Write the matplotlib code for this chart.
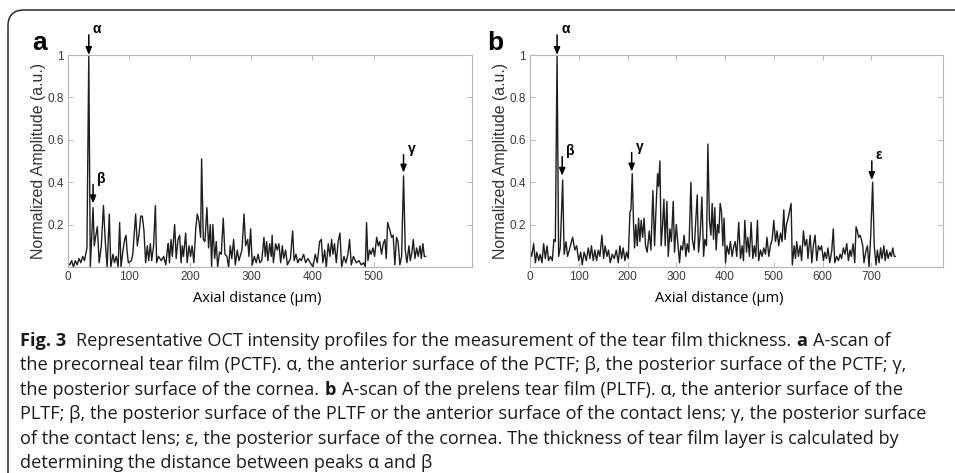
"""Two OCT A-scan intensity profiles (PCTF / PLTF) with peak markers and the figure caption."""

import matplotlib.pyplot as plt
from matplotlib.patches import FancyBboxPatch

# panel a: precorneal tear film, trace vertices (axial distance in um, normalized amplitude)
a_x = [0, 3, 6, 9, 12, 15, 18, 21, 24, 27, 29, 31, 34, 36.5, 41, 43, 45, 48, 51, 54.5, 58, 61, 64,
       67.6, 70, 73.6, 76, 79, 82, 84.5, 86.7, 90, 92.7, 95, 96.5, 98.7, 103.6, 106, 110.7, 113.4,
       116, 119, 121.6, 124.3, 127, 129.8, 132, 134.7, 137, 140, 143, 145, 148, 152.7, 156.5, 160,
       162.5, 164, 166, 168.5, 170.7, 174.5, 177, 180, 182.7, 185, 187, 189, 192.5, 195, 198, 200.6,
       203, 206, 209, 211.5, 214, 217, 218.6, 221.4, 224, 227.3, 230, 232.8, 235, 237, 240, 242.6,
       244.8, 248, 250.8, 254, 256.8, 260, 262.8, 265.5, 268, 271, 273.7, 277, 279.7, 284.6, 288,
       290.6, 294, 296, 298.8, 301.5, 304.8, 308, 311, 314, 317, 320.6, 322.8, 325, 327, 330, 332.6,
       334, 336, 339.7, 342.4, 345, 348, 350.6, 353, 356, 359, 364, 367.5, 370, 373, 376, 379, 381.7,
       385.5, 388.8, 392.6, 396.4, 400.8, 404.6, 407.9, 411.7, 414.4, 417, 420, 422.6, 425.8, 428.6,
       431.3, 433.5, 436, 439, 442, 445, 447.7, 451.5, 454.7, 458, 460.7, 463.5, 467, 471.6, 476,
       479.8, 483.6, 486.4, 488.5, 490.7, 493.5, 496, 499, 501.6, 505, 507.6, 510, 513, 515.8, 518.5,
       520.7, 523, 525, 527, 529.5, 532, 534.8, 537.5, 540, 543, 545.8, 549, 551.8, 554.5, 557.8,
       560, 562.7, 564.9, 567.6, 570.4, 573, 576, 578, 580.7, 583, 585]
a_y = [0.02, 0.01, 0.03, 0.0, 0.03, 0.01, 0.04, 0.02, 0.05, 0.03, 0.06, 0.09, 1.0, 0.0, 0.28, 0.1,
       0.14, 0.19, 0.02, 0.1, 0.29, 0.12, 0.0, 0.25, 0.0, 0.06, 0.02, 0.05, 0.0, 0.21, 0.0, 0.08, 0.13,
       0.15, 0.08, 0.02, 0.03, 0.06, 0.25, 0.1, 0.15, 0.24, 0.24, 0.17, 0.02, 0.1, 0.03, 0.11, 0.03,
       0.1, 0.29, 0.02, 0.05, 0.03, 0.05, 0.01, 0.08, 0.11, 0.02, 0.13, 0.05, 0.2, 0.04, 0.13, 0.15,
       0.02, 0.1, 0.05, 0.16, 0.02, 0.1, 0.05, 0.1, 0.02, 0.18, 0.25, 0.22, 0.14, 0.51, 0.13, 0.12,
       0.28, 0.09, 0.2, 0.0, 0.2, 0.04, 0.12, 0.0, 0.07, 0.06, 0.23, 0.06, 0.05, 0.0, 0.1, 0.04, 0.13,
       0.01, 0.08, 0.03, 0.08, 0.25, 0.1, 0.13, 0.05, 0.18, 0.01, 0.05, 0.02, 0.06, 0.02, 0.03, 0.14,
       0.05, 0.12, 0.03, 0.11, 0.05, 0.15, 0.02, 0.11, 0.08, 0.11, 0.02, 0.1, 0.04, 0.08, 0.01, 0.04,
       0.17, 0.03, 0.06, 0.02, 0.04, 0.03, 0.06, 0.02, 0.04, 0.02, 0.0, 0.06, 0.02, 0.12, 0.13, 0.02,
       0.08, 0.0, 0.11, 0.05, 0.13, 0.06, 0.11, 0.02, 0.12, 0.16, 0.0, 0.05, 0.02, 0.06, 0.13, 0.01,
       0.05, 0.02, 0.03, 0.01, 0.02, 0.0, 0.21, 0.03, 0.08, 0.06, 0.09, 0.05, 0.14, 0.1, 0.12, 0.06,
       0.11, 0.13, 0.04, 0.21, 0.19, 0.17, 0.14, 0.15, 0.01, 0.14, 0.12, 0.01, 0.05, 0.43, 0.08, 0.02,
       0.1, 0.03, 0.07, 0.13, 0.04, 0.09, 0.05, 0.1, 0.04, 0.11, 0.05, 0.05]

# panel b: prelens tear film
b_x = [0, 3.4, 7.5, 11, 14, 18, 21, 24.6, 28, 31.4, 35, 38, 42, 45.8, 49, 52, 55.5, 58.7, 62, 67, 70,
       73.8, 77, 80.6, 87.4, 92, 95.6, 100, 104, 107, 111, 115.4, 119.5, 123, 126, 129.8, 133, 136.6,
       140, 143.4, 147.5, 151, 154, 157.8, 161, 164.6, 168.7, 172.8, 177, 181, 184.4, 187.8, 191,
       194.7, 198, 201.5, 205, 207, 209.7, 212.4, 214.5, 217, 220, 222.7, 225.4, 228, 231, 234, 237,
       240.4, 244.5, 248, 252, 255.5, 258, 261.6, 263.7, 266.4, 269, 272, 274.6, 277.3, 280.7, 283.5,
       287, 290, 293.7, 296.4, 300, 303, 306.7, 309.4, 312.8, 316, 319.7, 322.4, 325.8, 330, 333,
       336.7, 339.5, 343, 345.6, 349, 352.5, 356, 358.6, 362, 364.8, 368, 371, 373.6, 376.4, 379,
       381.8, 384.6, 387.3, 390, 392.8, 395.5, 398, 401, 404, 407.8, 411, 414.6, 417.3, 420.8, 424,
       428, 431.7, 435, 437.8, 440.6, 444, 446.7, 450, 453.5, 457, 460, 463, 466.5, 469, 472.7, 476,
       479.5, 483, 486, 489.8, 493, 496.6, 500, 503.4, 506.8, 510, 513.7, 517, 520.5, 523, 526, 529.4,
       532.8, 535.5, 538, 541.7, 544.4, 547, 550.5, 554, 557, 560.8, 564, 567.6, 570, 574.5, 578, 581,
       584.7, 588, 591.5, 595, 598, 601.8, 604.5, 608, 611, 614.8, 619, 622, 625, 629, 632.5, 636, 639,
       642.7, 646, 649.6, 653, 656.4, 659, 662.6, 666, 668.7, 671.4, 674, 677, 679.6, 682.4, 685,
       688.5, 692, 695.4, 698.8, 702.7, 706, 709.7, 712.4, 716, 719, 722, 725.7, 728.4, 731.6, 734.5,
       738, 741, 744, 747, 749]
b_y = [0.08, 0.05, 0.11, 0.02, 0.07, 0.03, 0.06, 0.02, 0.11, 0.04, 0.1, 0.03, 0.05, 0.03, 0.13, 0.12,
       1.0, 0.05, 0.09, 0.41, 0.06, 0.12, 0.05, 0.08, 0.14, 0.08, 0.1, 0.03, 0.07, 0.01, 0.07, 0.03,
       0.09, 0.04, 0.1, 0.03, 0.08, 0.03, 0.08, 0.05, 0.15, 0.04, 0.1, 0.05, 0.08, 0.02, 0.06, 0.04,
       0.08, 0.02, 0.1, 0.04, 0.09, 0.03, 0.07, 0.04, 0.26, 0.27, 0.44, 0.2, 0.09, 0.2, 0.1, 0.23,
       0.12, 0.22, 0.14, 0.23, 0.1, 0.07, 0.17, 0.08, 0.36, 0.1, 0.25, 0.44, 0.38, 0.5, 0.1, 0.2, 0.32,
       0.1, 0.31, 0.05, 0.18, 0.12, 0.31, 0.07, 0.2, 0.12, 0.02, 0.1, 0.08, 0.15, 0.05, 0.11, 0.07,
       0.4, 0.13, 0.08, 0.2, 0.34, 0.07, 0.15, 0.33, 0.05, 0.13, 0.1, 0.58, 0.22, 0.15, 0.3, 0.13,
       0.28, 0.08, 0.2, 0.16, 0.3, 0.26, 0.1, 0.23, 0.02, 0.1, 0.06, 0.12, 0.05, 0.09, 0.12, 0.05,
       0.21, 0.04, 0.1, 0.03, 0.22, 0.07, 0.14, 0.05, 0.21, 0.04, 0.1, 0.05, 0.22, 0.03, 0.08, 0.05,
       0.09, 0.06, 0.14, 0.05, 0.1, 0.13, 0.22, 0.12, 0.17, 0.1, 0.16, 0.12, 0.27, 0.13, 0.2, 0.23,
       0.27, 0.3, 0.01, 0.1, 0.04, 0.12, 0.05, 0.1, 0.03, 0.17, 0.1, 0.13, 0.04, 0.15, 0.02, 0.1, 0.15,
       0.03, 0.1, 0.08, 0.1, 0.03, 0.07, 0.04, 0.09, 0.02, 0.08, 0.18, 0.02, 0.05, 0.03, 0.06, 0.04,
       0.09, 0.06, 0.11, 0.03, 0.08, 0.05, 0.11, 0.02, 0.19, 0.17, 0.14, 0.15, 0.13, 0.1, 0.02, 0.07,
       0.1, 0.0, 0.15, 0.4, 0.1, 0.01, 0.08, 0.02, 0.09, 0.04, 0.1, 0.03, 0.08, 0.04, 0.07, 0.05, 0.09,
       0.05, 0.05]

# peak markers: (label, x, arrow tail, arrow tip)
a_peaks = [("α", 34, 1.095, 1.0), ("β", 41, 0.39, 0.30), ("γ", 549, 0.53, 0.445)]
b_peaks = [("α", 55.5, 1.095, 1.0), ("β", 66, 0.52, 0.43), ("γ", 208.5, 0.54, 0.45),
           ("ε", 701, 0.50, 0.41)]

a_xticks = [0, 100, 200, 300, 400, 500]
b_xticks = [0, 100, 200, 300, 400, 500, 600, 700]
yticks = [0.2, 0.4, 0.6, 0.8, 1.0]
ytick_labels = ["0.2", "0.4", "0.6", "0.8", "1"]

caption_lines = [
    [("Fig. 3", True), ("Representative OCT intensity profiles for the measurement of the tear film thickness.", False),
     ("a", True), ("A-scan of", False)],
    [("the precorneal tear film (PCTF). α, the anterior surface of the PCTF; β, the posterior surface of the PCTF; γ,", False)],
    [("the posterior surface of the cornea.", False), ("b", True),
     ("A-scan of the prelens tear film (PLTF). α, the anterior surface of the", False)],
    [("PLTF; β, the posterior surface of the PLTF or the anterior surface of the contact lens; γ, the posterior surface", False)],
    [("of the contact lens; ε, the posterior surface of the cornea. The thickness of tear film layer is calculated by", False)],
    [("determining the distance between peaks α and β", False)],
]

W, H = 955, 473
TICK_FONT = "Liberation Sans"
CAP_FONT = "Open Sans"


def style_axes(ax, xmax, xticks):
    ax.set_xlim(0, xmax)
    ax.set_ylim(0, 1)
    ax.set_xticks(xticks)
    ax.set_yticks(yticks, ytick_labels)
    for s in ax.spines.values():
        s.set_color("#b5b5b5")
        s.set_linewidth(0.8)
    ax.tick_params(direction="in", length=3.5, width=0.7, color="#b5b5b5", top=True, right=True,
                   labelsize=8.5, labelcolor="#3a3a3a", pad=3)
    for lab in ax.get_xticklabels() + ax.get_yticklabels():
        lab.set_family(TICK_FONT)
    ax.set_ylabel("Normalized Amplitude (a.u.)", fontsize=11.4, color="#333333", family=TICK_FONT, labelpad=1)


def mark_peaks(ax, peaks):
    for label, x, tail, tip in peaks:
        ax.annotate("", xy=(x, tip), xytext=(x, tail), annotation_clip=False,
                    arrowprops=dict(arrowstyle="-|>,head_length=0.45,head_width=0.18", color="black", lw=1.1,
                                    shrinkA=0, shrinkB=0))
        ax.annotate(label, xy=(x, tail), xytext=(3, 4), textcoords="offset points", ha="left", va="center",
                    fontsize=10, fontweight="bold", family=TICK_FONT, annotation_clip=False)


fig = plt.figure(figsize=(W / 100, H / 100), dpi=100)

ax_a = fig.add_axes([68 / W, 1 - 267 / H, (472 - 68) / W, (267 - 55) / H])
ax_a.plot(a_x, a_y, color="#1e1e1e", lw=1.0)
style_axes(ax_a, 661, a_xticks)
mark_peaks(ax_a, a_peaks)

ax_b = fig.add_axes([530 / W, 1 - 267 / H, (943 - 530) / W, (267 - 55) / H])
ax_b.plot(b_x, b_y, color="#1e1e1e", lw=1.0)
style_axes(ax_b, 847, b_xticks)
mark_peaks(ax_b, b_peaks)

fig.text(40 / W, 1 - 43 / H, "a", fontsize=19, fontweight="bold", ha="center", va="center", family=TICK_FONT)
fig.text(495 / W, 1 - 43 / H, "b", fontsize=19, fontweight="bold", ha="center", va="center", family=TICK_FONT)
fig.text(257 / W, 1 - 298 / H, "Axial distance (μm)", fontsize=10.5, ha="center", va="center", family=CAP_FONT)
fig.text(719 / W, 1 - 298 / H, "Axial distance (μm)", fontsize=10.5, ha="center", va="center", family=CAP_FONT)

# rounded frame, only the top-left corner is visible
frame = FancyBboxPatch((0.08, -0.3), 12, 4.63 + 0.3, boxstyle="round,pad=0,rounding_size=0.16",
                       transform=fig.dpi_scale_trans, fill=False, edgecolor="#2b2b2b", lw=1.1)
fig.add_artist(frame)

# caption, drawn segment by segment so the bold pieces sit inline
renderer = fig.canvas.get_renderer()
GAP = 5.5
for i, segments in enumerate(caption_lines):
    x = 20
    y = 346 + i * 24.4
    for j, (text, bold) in enumerate(segments):
        t = fig.text(x / W, 1 - y / H, text, fontsize=13.1, family=CAP_FONT, ha="left", va="baseline",
                     fontweight="bold" if bold else "normal", color="#1a1a1a")
        x += t.get_window_extent(renderer).width + (GAP + 4 if bold and j == 0 else GAP)

fig.savefig("out.png", dpi=100)
